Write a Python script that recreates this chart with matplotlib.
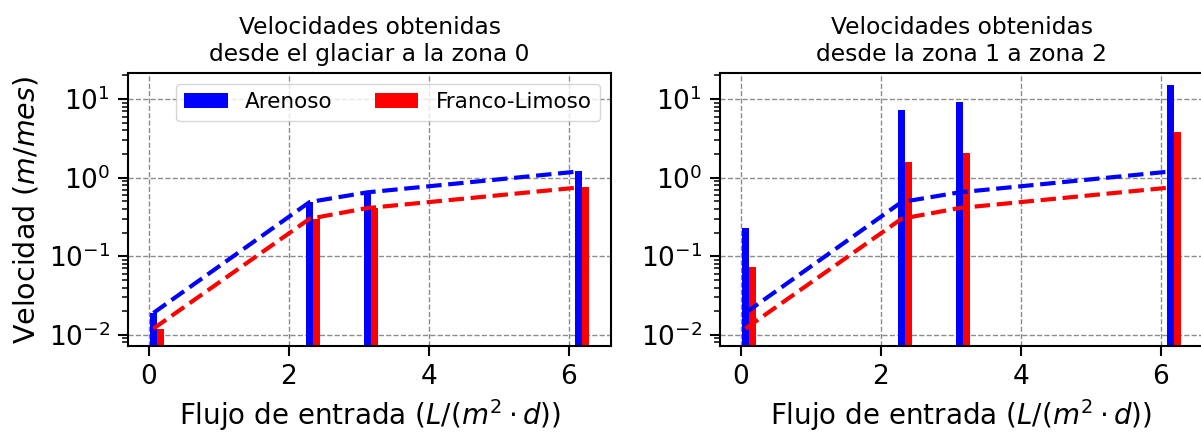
import numpy as np
import matplotlib
matplotlib.use("Agg")
from matplotlib import pyplot as plt

# flujo de entrada L/(m2 d)
flujo = [0.07, 2.30, 3.12, 6.14]

# velocidades desde el glaciar a la zona 0 (m/mes)
v0_arenoso = [0.019, 0.49, 0.65, 1.2]
v0_franco = [0.012, 0.30, 0.41, 0.75]

# velocidades desde la zona 1 a zona 2 (m/mes)
v12_arenoso = [0.232, 7.3, 9.3, 15.2]
v12_franco = [0.073, 1.6, 2.05, 3.87]

titulos = ["Velocidades obtenidas\ndesde el glaciar a la zona 0",
           "Velocidades obtenidas\ndesde la zona 1 a zona 2"]

fig = plt.figure(figsize=(12.01, 4.33), dpi=100)
ax1 = fig.add_axes([0.1066, 0.2009, 0.4022, 0.6305])
ax2 = fig.add_axes([0.5995, 0.2009, 0.4022, 0.6305])

w = 0.1
x = np.array(flujo)
for ax, va, vf, tit in [(ax1, v0_arenoso, v0_franco, titulos[0]),
                        (ax2, v12_arenoso, v12_franco, titulos[1])]:
    ax.bar(x, va, width=w, color="blue", label="Arenoso")
    ax.bar(x + w, vf, width=w, color="red", label="Franco-Limoso")
    # lineas de la zona 0 en ambas graficas
    ax.plot(x, v0_arenoso, "--", color="blue", lw=3)
    ax.plot(x, v0_franco, "--", color="red", lw=3)
    ax.set_yscale("log")
    ax.set_ylim(0.0072, 21.5)
    ax.set_xticks([0, 2, 4, 6])
    ax.grid(True, which="major", linestyle="--", color="gray", lw=1.0, alpha=0.9)
    ax.set_axisbelow(True)
    ax.set_title(tit, fontsize=16.8, pad=9)
    ax.set_xlabel(r"Flujo de entrada ($L/(m^2 \cdot d)$)", fontsize=20, labelpad=5)
    ax.tick_params(which="major", labelsize=19, length=7, width=1.5, pad=6)
    ax.tick_params(which="minor", length=4, width=1.1)
    for s in ax.spines.values():
        s.set_linewidth(1.5)

ax1.set_ylabel(r"Velocidad ($m/mes$)", fontsize=20.5, labelpad=6)
ax1.legend(loc="upper right", ncol=2, fontsize=15.5)

fig.savefig("out.png", dpi=100)
